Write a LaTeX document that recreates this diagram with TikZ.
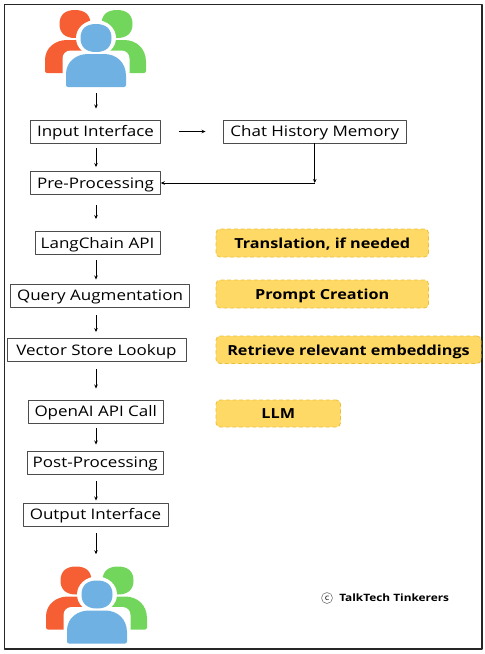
\documentclass[tikz,border=0pt]{standalone}
\usepackage{fontspec}
\setmainfont[FakeStretch=1.17]{Open Sans}
\usetikzlibrary{arrows.meta}
\def\px{.75pt}
\definecolor{peopleorange}{HTML}{F55F33}
\definecolor{peoplegreen}{HTML}{72D65C}
\definecolor{peopleblue}{HTML}{6FB1E2}
\definecolor{noteyellow}{HTML}{FFD966}
\definecolor{noteline}{HTML}{EDBE3C}
\tikzset{
    procbox/.style={draw=black!70, line width=.7pt, fill=white, inner sep=0pt, minimum height=23*\px, text height=9.5pt, text depth=2pt, font=\fontsize{10.9pt}{13pt}\selectfont},
    notebox/.style={draw=noteline, fill=noteyellow, densely dashed, line width=.6pt, rounded corners=3pt, inner sep=0pt, text height=10pt, text depth=2pt, font=\bfseries\fontsize{10.4pt}{13pt}\selectfont},
    iconbox/.style={inner sep=0pt, minimum width=100*\px, minimum height=77*\px},
    flow/.style={-{Stealth[length=3pt,width=2.6pt]}, line width=.7pt, black},
    head/.pic={\fill (-15.5,0) .. controls (-15.5,-9.5) and (-9.5,-14) .. (0,-14) .. controls (9.5,-14) and (15.5,-9.5) .. (15.5,0) .. controls (15.5,9.5) and (9.5,14) .. (0,14) .. controls (-9.5,14) and (-15.5,9.5) .. (-15.5,0) -- cycle;},
    body/.pic={\fill (-30,33) [rounded corners=1.5pt] -- (-30,22) [sharp corners] .. controls (-30,8) and (-20,0) .. (-8,0) -- (8,0) .. controls (20,0) and (30,8) .. (30,22) [rounded corners=1.5pt] -- (30,33) -- cycle;},
    people/.pic={
        % back row first, front figure with a white halo on top
        \begin{scope}[peopleorange]
            \pic at (-21,-24.5) {head};
            \pic at (-21,-8.5) {body};
        \end{scope}
        \begin{scope}[peoplegreen]
            \pic at (21,-24.5) {head};
            \pic at (20,-8.5) {body};
        \end{scope}
        \fill[white] (0,-10.5) ellipse [x radius=20, y radius=18];
        \fill[white, rounded corners=6pt] (-33.5,2) rectangle (33.5,38.5);
        \begin{scope}[peopleblue]
            \pic at (0,-10.5) {head};
            \pic at (0,5.5) {body};
        \end{scope}
    }
}
\begin{document}
\begin{tikzpicture}[x=.75pt, y=-.75pt, >=stealth, line join=round]
    \useasboundingbox (0,0) rectangle (485,654);
    \draw[line width=.9pt, black!85] (4.5,4.5) rectangle (482,649);
    % people
    \node[iconbox] (usersin) at (96,48.5) {};
    \pic at (usersin.center) {people};
    \node[iconbox] (usersout) at (97,605) {};
    \pic at (usersout.center) {people};
    % left column
    \node[procbox, minimum width=130*\px] (input) at (95.5,131.5) {Input Interface};
    \node[procbox, minimum width=129.5*\px] (pre) at (95.5,183) {Pre-Processing};
    \node[procbox, minimum width=125*\px] (lang) at (97.5,243) {LangChain API};
    \node[procbox, minimum width=179*\px] (query) at (100,295.5) {Query Augmentation};
    \node[procbox, minimum width=179*\px] (store) at (96.5,350) {Vector Store Lookup};
    \node[procbox, minimum width=135.5*\px] (openai) at (95.75,411.5) {OpenAI API Call};
    \node[procbox, minimum width=136.5*\px] (post) at (95.25,462.5) {Post-Processing};
    \node[procbox, minimum width=145*\px] (output) at (95.5,514.5) {Output Interface};
    \node[procbox, minimum width=182.5*\px] (chat) at (314.75,131.5) {Chat History Memory};
    % notes on the right
    \node[notebox, minimum width=212.5*\px, minimum height=28*\px] (translate) at (322.25,243) {Translation, if needed};
    \node[notebox, minimum width=212.5*\px, minimum height=28*\px] (prompt) at (322.25,294) {Prompt Creation};
    \node[notebox, minimum width=265*\px, minimum height=27.5*\px] (retrieve) at (348.5,349.75) {Retrieve relevant embeddings};
    \node[notebox, minimum width=124.5*\px, minimum height=27*\px] (llm) at (278.25,413.5) {LLM};
    % credit
    \node[circle, draw=black!60, line width=.4pt, inner sep=0pt, minimum size=11*\px, font=\fontsize{6pt}{6pt}\selectfont] (copymark) at (327,598) {c};
    \node[anchor=west, inner sep=0pt, font=\bfseries\fontsize{7.6pt}{9pt}\selectfont] (credit) at (339,598) {TalkTech Tinkerers};
    % arrows
    \coordinate (spine) at (96,0);
    \draw[flow, shorten <=6*\px, shorten >=11*\px] (usersin.south -| spine) -- (input.north -| spine);
    \draw[flow, shorten <=5*\px, shorten >=4*\px] (input.south -| spine) -- (pre.north -| spine);
    \draw[flow, shorten <=10*\px, shorten >=12*\px] (pre.south -| spine) -- (lang.north -| spine);
    \draw[flow, shorten <=5*\px, shorten >=4*\px] (lang.south -| spine) -- (query.north -| spine);
    \draw[flow, shorten <=8*\px, shorten >=6*\px] (query.south -| spine) -- (store.north -| spine);
    \draw[flow, shorten <=7*\px, shorten >=11*\px] (store.south -| spine) -- (openai.north -| spine);
    \draw[flow, shorten <=5*\px, shorten >=6*\px] (openai.south -| spine) -- (post.north -| spine);
    \draw[flow, shorten <=7*\px, shorten >=2*\px] (post.south -| spine) -- (output.north -| spine);
    \draw[flow, shorten <=7*\px, shorten >=12*\px] (output.south -| spine) -- (usersout.north -| spine);
    \draw[flow, shorten <=18*\px, shorten >=17.5*\px] (input) -- (chat);
    \coordinate (turn) at (chat.south |- pre.east);
    \draw[flow] (chat.south) -- (turn);
    \draw[flow] (turn) -- (pre.east);
\end{tikzpicture}
\end{document}
